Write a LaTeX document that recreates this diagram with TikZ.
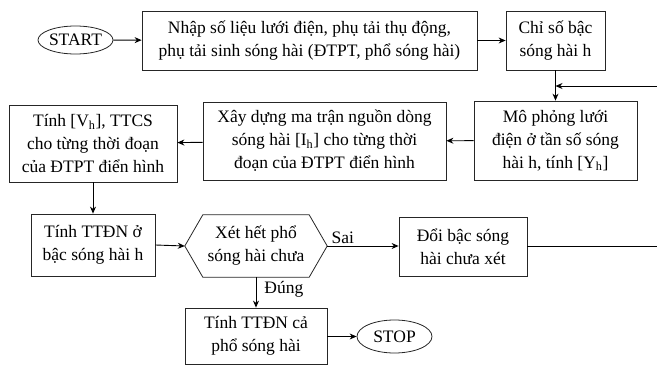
\documentclass[tikz,border=0pt]{standalone}
\usepackage{fontspec}
\setmainfont{Liberation Serif}
\usetikzlibrary{arrows.meta,calc,shapes.geometric}
\begin{document}
\begin{tikzpicture}[x=1pt,y=-1pt,
  every node/.style={font=\fontsize{17.5}{23}\selectfont, align=center, inner sep=0pt},
  box/.style={draw=black!85, line width=0.8pt, rectangle},
  oval/.style={draw=black!85, line width=0.8pt, ellipse},
  conn/.style={line width=0.9pt, -{Stealth[length=7pt,width=6pt]}},
  plain/.style={line width=0.9pt}]
\useasboundingbox (0,0) rectangle (657,367);
\node[oval, minimum width=75, minimum height=28] (start) at (75.5,40) {START};
\node[box, minimum width=335, minimum height=59] (inp) at (309.5,40.5) {Nhập số liệu lưới điện, phụ tải thụ động,\\ phụ tải sinh sóng hài (ĐTPT, phổ sóng hài)};
\node[box, minimum width=99, minimum height=59] (idx) at (555.5,40.5) {Chỉ số bậc\\ sóng hài h};
\node[box, minimum width=163, minimum height=79] (sim) at (555.5,140.5) {Mô phỏng lưới\\ điện ở tần số sóng\\ hài h, tính [Y\textsubscript{h}]};
\node[box, minimum width=243, minimum height=78] (mat) at (324.5,141) {Xây dựng ma trận nguồn dòng\\ sóng hài [I\textsubscript{h}] cho từng thời\\ đoạn của ĐTPT điển hình};
\node[box, minimum width=168, minimum height=77] (vh) at (93,143.5) {Tính [V\textsubscript{h}], TTCS\\ cho từng thời đoạn\\ của ĐTPT điển hình};
\node[box, minimum width=124, minimum height=62] (ttdn) at (93,245) {Tính TTĐN ở\\ bậc sóng hài h};
\node[minimum width=142, minimum height=62] (hex) at (256,246) {Xét hết phổ\\ sóng hài chưa};
\draw[line width=0.8pt, draw=black!85] (hex.west) -- ($(hex.north west)+(18,0)$) -- ($(hex.north east)+(-18,0)$) -- (hex.east) -- ($(hex.south east)+(-18,0)$) -- ($(hex.south west)+(18,0)$) -- cycle;
\node[box, minimum width=128, minimum height=59] (doi) at (463,246.5) {Đổi bậc sóng\\ hài chưa xét};
\node[box, minimum width=142, minimum height=56] (tot) at (256,336) {Tính TTĐN cả\\ phổ sóng hài};
\node[oval, minimum width=75, minimum height=33] (stop) at (394.5,336.5) {STOP};
\coordinate (fb1) at (662,246.5);
\coordinate (fb2) at (662,86);
\coordinate (fb3) at (555.5,86);
\draw[conn] (start) -- (inp);
\draw[conn] (inp.east |- idx.west) -- (idx.west);
\draw[conn] (idx) -- (sim);
\draw[conn] (sim) -- (mat);
\draw[conn] (mat) -- (vh);
\draw[conn] (vh) -- (ttdn);
\draw[conn] (ttdn.east) -- (hex.west);
\draw[conn] (hex.east) -- node[above, pos=0.22, yshift=2pt] {Sai} (doi.west |- hex.east);
\draw[conn] (hex.south) -- node[right, pos=0.4, xshift=8pt] {Đúng} (tot.north);
\draw[conn] (tot.east |- stop.west) -- (stop.west);
\draw[plain] (doi.east) -- (fb1) -- (fb2);
\draw[conn] (fb2) -- (fb3);
\end{tikzpicture}
\end{document}
